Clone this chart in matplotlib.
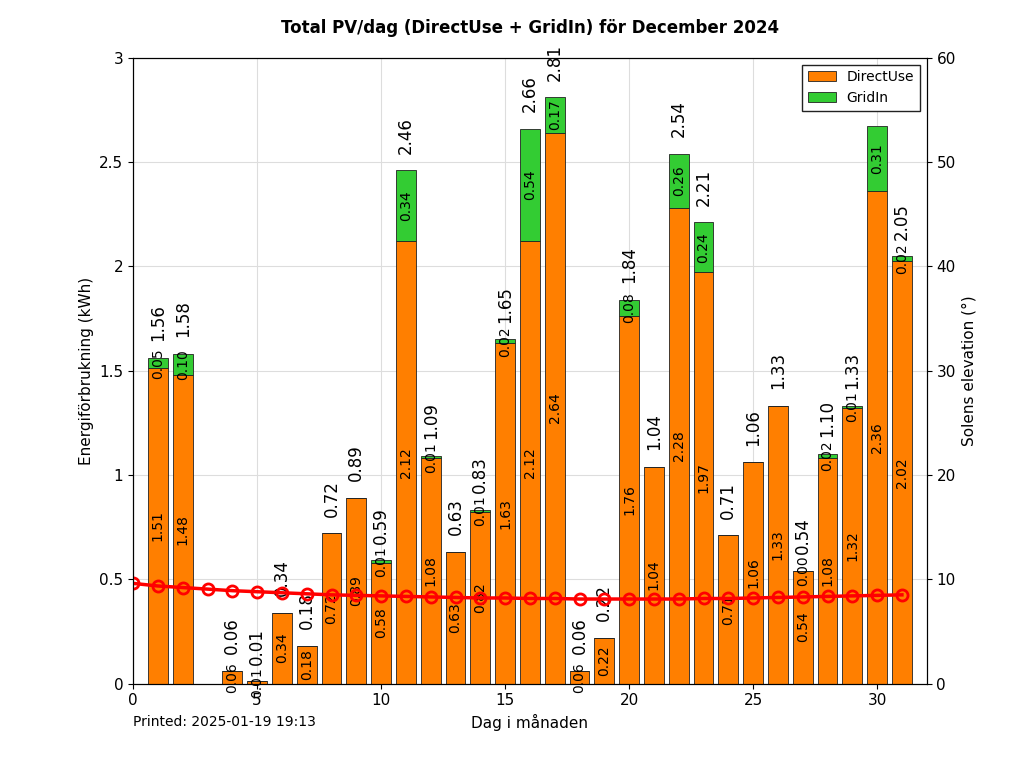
import matplotlib
matplotlib.use("Agg")
import matplotlib.pyplot as plt
import numpy as np

days = list(range(1, 32))
direct = [1.51,1.48,0,0.06,0.01,0.34,0.18,0.72,0.89,0.58,2.12,1.08,0.63,0.824,1.63,2.12,2.64,0.06,0.22,1.76,1.04,2.28,1.97,0.71,1.06,1.33,0.54,1.08,1.32,2.36,2.024]
gridin = [0.05,0.10,0,0,0,0,0,0,0,0.01,0.34,0.01,0,0.01,0.02,0.54,0.17,0,0,0.08,0,0.26,0.24,0,0,0,0.00,0.02,0.01,0.31,0.024]
sun_days = list(range(0, 32))
sun_elev = [9.6,9.35,9.2,9.05,8.9,8.8,8.7,8.6,8.5,8.45,8.4,8.35,8.3,8.25,8.2,8.2,8.15,8.15,8.1,8.1,8.1,8.1,8.1,8.15,8.15,8.2,8.25,8.3,8.35,8.4,8.45,8.5]

fig = plt.figure(figsize=(10.24, 7.68), dpi=100)
ax = fig.add_axes([0.13, 0.11, 0.775, 0.815])
d = np.array(direct); g = np.array(gridin)
ax.bar(days, d, width=0.8, color='#ff7f00', edgecolor='#222222', linewidth=0.6, label='DirectUse', zorder=2)
ax.bar(days, g, bottom=d, width=0.8, color='#33cc33', edgecolor='#222222', linewidth=0.6, label='GridIn', zorder=2)
for x, a, b in zip(days, d, g):
    if a + b == 0:
        continue
    ax.text(x, a/2, f"{a:.2f}", rotation=90, ha='center', va='center', fontsize=10, zorder=4)
    if b > 0 or x == 27:
        ax.text(x, a + b/2, f"{b:.2f}", rotation=90, ha='center', va='center', fontsize=10, zorder=4)
    ax.text(x, a + b + 0.08, f"{a+b:.2f}", ha='center', va='bottom', fontsize=12, rotation=90, zorder=4, clip_on=False)
ax.set_xlim(0, 32)
ax.set_ylim(0, 3)
ax.set_xticks([0,5,10,15,20,25,30])
ax.set_yticks([0,0.5,1,1.5,2,2.5,3])
ax.set_yticklabels(['0','0.5','1','1.5','2','2.5','3'])
ax.grid(True, color='#dddddd', linewidth=0.8, zorder=0)
ax.set_axisbelow(True)
ax.set_xlabel('Dag i månaden', fontsize=11)
ax.set_ylabel('Energiförbrukning (kWh)', fontsize=11)
ax.set_title('Total PV/dag (DirectUse + GridIn) för December 2024', fontsize=12, fontweight='bold', pad=18)
ax.tick_params(labelsize=11)
ax.legend(loc='upper right', fontsize=10, fancybox=False, edgecolor='#222222', framealpha=1)
ax2 = ax.twinx()
ax2.plot(sun_days, sun_elev, '-o', color='red', linewidth=2.5, markersize=8, markerfacecolor='none', markeredgewidth=2)
ax2.set_ylim(0, 60)
ax2.set_ylabel('Solens elevation (°)', fontsize=11)
ax2.tick_params(labelsize=11)
fig.text(0.13, 0.055, 'Printed: 2025-01-19 19:13', fontsize=10)
fig.savefig('out.png', dpi=100)
